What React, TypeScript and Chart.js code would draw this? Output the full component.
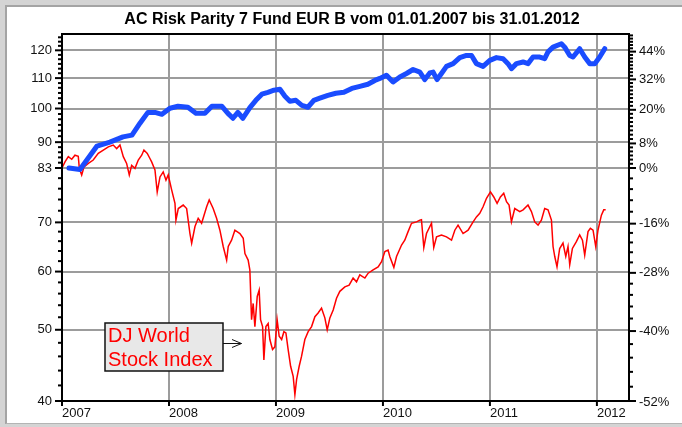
import React, { useEffect, useRef } from "react";
import { Chart, registerables } from "chart.js";

Chart.register(...registerables);

const TITLE = "AC Risk Parity 7 Fund EUR B vom 01.01.2007 bis 31.01.2012";
const ANNOTATION_LINES = ["DJ World", "Stock Index"];
const BASE = 83;

const yearTicks = [2007, 2008, 2009, 2010, 2011, 2012];
const leftMajor = [40, 50, 60, 70, 83, 90, 100, 110, 120];
const leftMinor = [
  42, 44, 46, 48, 52, 54, 56, 58, 62, 64, 66, 68, 72.6, 75.2, 77.8, 80.4,
  84.4, 85.8, 87.2, 88.6, 91.7, 93.3, 95, 96.7, 98.3, 101.7, 103.3, 105, 106.7, 108.3,
  111.7, 113.3, 115, 116.7, 118.3, 121.7, 123.3, 125,
];
const rightMajorPct = [44, 32, 20, 8, 0, -16, -28, -40, -52];
const rightMinorPct = [
  -49.6, -47.2, -44.8, -42.4, -37.6, -35.2, -32.8, -30.4, -25.6, -23.2, -20.8, -18.4,
  -12.8, -9.6, -6.4, -3.2, 1.33, 2.67, 4, 5.33, 6.67,
  9.5, 11, 12.5, 14, 15.5, 17, 18.5, 21.5, 23, 24.5, 26, 27.5, 29, 30.5,
  33.5, 35, 36.5, 38, 39.5, 41, 42.5, 45.5, 47, 48.5, 50, 51.5,
];

// DJ World Stock Index (red)
const indexYears = [
  2007.000, 2007.028, 2007.059, 2007.091, 2007.121, 2007.152, 2007.162, 2007.184, 2007.206, 2007.246,
  2007.292, 2007.339, 2007.386, 2007.433, 2007.479, 2007.511, 2007.542, 2007.573, 2007.604, 2007.629,
  2007.651, 2007.682, 2007.713, 2007.745, 2007.766, 2007.797, 2007.822, 2007.838, 2007.869, 2007.890,
  2007.916, 2007.946, 2007.972, 2007.993, 2008.025, 2008.056, 2008.065, 2008.087, 2008.133, 2008.165,
  2008.196, 2008.212, 2008.243, 2008.273, 2008.305, 2008.352, 2008.376, 2008.413, 2008.445, 2008.476,
  2008.507, 2008.539, 2008.554, 2008.585, 2008.616, 2008.663, 2008.694, 2008.710, 2008.740, 2008.756,
  2008.772, 2008.787, 2008.803, 2008.825, 2008.843, 2008.856, 2008.875, 2008.887, 2008.906, 2008.927,
  2008.943, 2008.968, 2008.990, 2009.011, 2009.030, 2009.053, 2009.074, 2009.093, 2009.114, 2009.137,
  2009.161, 2009.177, 2009.193, 2009.217, 2009.239, 2009.270, 2009.301, 2009.333, 2009.364, 2009.394,
  2009.426, 2009.457, 2009.479, 2009.504, 2009.535, 2009.566, 2009.597, 2009.644, 2009.684, 2009.721,
  2009.753, 2009.784, 2009.831, 2009.862, 2009.908, 2009.955, 2009.987, 2010.018, 2010.048, 2010.064,
  2010.102, 2010.127, 2010.174, 2010.204, 2010.235, 2010.267, 2010.314, 2010.345, 2010.360, 2010.382,
  2010.407, 2010.454, 2010.475, 2010.501, 2010.547, 2010.594, 2010.641, 2010.672, 2010.702, 2010.749,
  2010.796, 2010.843, 2010.874, 2010.905, 2010.936, 2010.968, 2011.005, 2011.036, 2011.067, 2011.098,
  2011.129, 2011.155, 2011.179, 2011.201, 2011.232, 2011.279, 2011.310, 2011.356, 2011.388, 2011.419,
  2011.450, 2011.481, 2011.512, 2011.543, 2011.575, 2011.590, 2011.606, 2011.627, 2011.652, 2011.683,
  2011.709, 2011.730, 2011.746, 2011.771, 2011.808, 2011.839, 2011.865, 2011.886, 2011.917, 2011.939,
  2011.964, 2011.989, 2012.010, 2012.042, 2012.064, 2012.082,
];
const indexValues = [
  83.0, 84.6, 86.0, 85.3, 86.4, 86.1, 82.9, 81.2, 83.3, 84.2,
  85.1, 86.9, 87.8, 88.7, 89.2, 88.2, 89.2, 86.0, 84.2, 81.2,
  83.7, 82.9, 85.1, 86.4, 87.8, 86.9, 85.5, 84.6, 82.5, 77.0,
  80.7, 82.0, 79.9, 81.2, 77.5, 74.3, 70.5, 73.1, 73.9, 73.1,
  67.6, 65.6, 69.1, 70.9, 69.8, 73.5, 75.1, 73.1, 70.9, 68.3,
  64.9, 62.2, 64.9, 66.2, 68.3, 67.6, 66.6, 63.5, 62.2, 60.3,
  51.6, 54.3, 50.5, 55.5, 56.6, 51.6, 50.5, 45.5, 50.5, 51.0,
  48.5, 47.0, 47.4, 51.6, 49.0, 48.5, 49.7, 49.5, 47.0, 44.6,
  43.2, 40.8, 42.8, 44.6, 46.0, 48.5, 49.7, 50.5, 52.1, 52.7,
  53.5, 51.9, 50.0, 51.9, 53.2, 55.2, 56.4, 57.2, 57.5, 58.8,
  58.1, 59.4, 58.8, 59.7, 60.3, 60.9, 61.9, 63.9, 64.2, 62.9,
  60.8, 62.9, 65.2, 66.2, 68.0, 69.8, 70.1, 70.5, 70.6, 64.7,
  67.6, 69.8, 64.7, 66.9, 67.3, 66.9, 66.2, 68.3, 69.4, 67.6,
  68.3, 70.1, 71.2, 72.0, 73.5, 75.5, 77.0, 75.8, 74.3, 75.8,
  76.7, 74.7, 73.9, 70.1, 73.1, 72.4, 72.8, 73.9, 72.4, 70.1,
  69.4, 70.5, 73.1, 72.8, 70.5, 64.9, 62.9, 60.9, 64.5, 65.6,
  62.9, 64.9, 61.3, 64.5, 65.9, 67.3, 66.2, 63.2, 68.0, 68.7,
  68.3, 64.9, 68.3, 71.6, 72.8, 72.8,
];

// AC Risk Parity 7 Fund EUR B (blue)
const fundYears = [
  2007.065, 2007.168, 2007.327, 2007.448, 2007.570, 2007.654, 2007.729, 2007.803, 2007.869, 2007.934,
  2008.009, 2008.084, 2008.177, 2008.252, 2008.336, 2008.401, 2008.495, 2008.551, 2008.598, 2008.644,
  2008.691, 2008.756, 2008.812, 2008.868, 2008.925, 2008.981, 2009.037, 2009.084, 2009.130, 2009.186,
  2009.242, 2009.298, 2009.354, 2009.410, 2009.485, 2009.560, 2009.635, 2009.709, 2009.784, 2009.859,
  2009.924, 2009.971, 2010.033, 2010.095, 2010.158, 2010.220, 2010.282, 2010.345, 2010.391, 2010.438,
  2010.469, 2010.506, 2010.547, 2010.594, 2010.656, 2010.718, 2010.781, 2010.828, 2010.874, 2010.936,
  2010.999, 2011.061, 2011.123, 2011.169, 2011.201, 2011.248, 2011.310, 2011.356, 2011.403, 2011.466,
  2011.512, 2011.543, 2011.590, 2011.668, 2011.699, 2011.746, 2011.777, 2011.839, 2011.886, 2011.933,
  2011.980, 2012.026, 2012.073,
];
const fundValues = [
  83.0, 82.6, 88.9, 90.0, 91.5, 92.0, 95.5, 98.8, 98.8, 98.2,
  100.1, 100.7, 100.4, 98.5, 98.5, 100.7, 100.7, 98.5, 97.0, 98.8,
  97.0, 100.3, 102.6, 104.6, 105.2, 105.9, 106.2, 103.9, 102.3, 102.6,
  101.0, 100.4, 102.6, 103.3, 104.2, 104.9, 105.2, 106.5, 107.2, 107.9,
  109.2, 109.9, 111.0, 108.7, 110.4, 111.6, 113.0, 112.1, 109.5, 111.8,
  112.1, 109.5, 111.6, 114.1, 115.1, 117.3, 118.1, 118.1, 115.1, 114.1,
  116.3, 117.3, 116.9, 115.1, 113.3, 115.1, 115.7, 115.1, 117.5, 117.5,
  116.9, 119.4, 121.2, 122.5, 121.2, 118.1, 117.5, 120.6, 117.5, 115.1,
  115.1, 117.5, 120.6,
];

const FONT = "'Liberation Sans', Arial, Helvetica, sans-serif";

export default function App() {
  const ref = useRef<HTMLCanvasElement>(null);

  useEffect(() => {
    const canvas = ref.current;
    if (!canvas) return;

    const decor = {
      id: "decor",
      afterDraw(chart: any) {
        const { ctx, chartArea } = chart;
        const { left, right, top, bottom } = chartArea;
        const yS = chart.scales.y;
        const y1S = chart.scales.y1;
        const xS = chart.scales.x;
        ctx.save();
        ctx.strokeStyle = "#000";
        ctx.lineWidth = 2;
        const line = (x1: number, y1: number, x2: number, y2: number) => {
          ctx.beginPath();
          ctx.moveTo(x1, y1);
          ctx.lineTo(x2, y2);
          ctx.stroke();
        };
        leftMajor.forEach((v) => {
          const py = yS.getPixelForValue(v);
          line(left - 7, py, left, py);
        });
        leftMinor.forEach((v) => {
          const py = yS.getPixelForValue(v);
          line(left - 4, py, left, py);
        });
        rightMajorPct.forEach((p) => {
          const py = Math.min(bottom, y1S.getPixelForValue(BASE * (1 + p / 100)));
          line(right, py, right + 7, py);
        });
        rightMinorPct.forEach((p) => {
          const py = y1S.getPixelForValue(BASE * (1 + p / 100));
          if (py < top || py > bottom) return;
          line(right, py, right + 4, py);
        });
        yearTicks.forEach((yr) => {
          const px = xS.getPixelForValue(yr);
          line(px, bottom, px, bottom + 5);
        });
        ctx.strokeRect(left, top, right - left, bottom - top);

        // title
        ctx.fillStyle = "#000";
        ctx.font = `bold 16px ${FONT}`;
        ctx.textAlign = "center";
        ctx.textBaseline = "middle";
        ctx.fillText(TITLE, 352, 20);

        // annotation box
        const bx = 105, by = 323, bw = 118, bh = 48;
        ctx.fillStyle = "#e8e8e8";
        ctx.fillRect(bx, by, bw, bh);
        ctx.lineWidth = 1.5;
        ctx.strokeStyle = "#111";
        ctx.strokeRect(bx, by, bw, bh);
        ctx.fillStyle = "#ff0000";
        ctx.font = `20px ${FONT}`;
        ctx.textAlign = "left";
        ctx.textBaseline = "alphabetic";
        ctx.fillText(ANNOTATION_LINES[0], 108, 342);
        ctx.fillText(ANNOTATION_LINES[1], 108, 366);
        // arrow
        ctx.lineWidth = 1;
        ctx.strokeStyle = "#111";
        line(bx + bw, 343.5, 241.5, 343.5);
        ctx.beginPath();
        ctx.moveTo(232, 339.5);
        ctx.lineTo(241.5, 343.5);
        ctx.lineTo(232, 347.5);
        ctx.stroke();
        ctx.restore();
      },
    };

    const tickFont = { family: FONT, size: 13 };

    const chart = new Chart(canvas, {
      type: "line",
      data: {
        datasets: [
          {
            label: "AC Risk Parity 7 Fund EUR B",
            data: fundYears.map((x, i) => ({ x, y: fundValues[i] })),
            borderColor: "#1a4cff",
            borderWidth: 5,
            borderCapStyle: "round",
            borderJoinStyle: "round",
            pointRadius: 0,
            tension: 0,
            yAxisID: "y",
          },
          {
            label: "DJ World Stock Index",
            data: indexYears.map((x, i) => ({ x, y: indexValues[i] })),
            borderColor: "#ff0000",
            borderWidth: 1.5,
            pointRadius: 0,
            tension: 0,
            yAxisID: "y",
          },
        ],
      },
      options: {
        responsive: false,
        animation: false,
        events: [],
        layout: { padding: { top: 34, left: 0, right: 0, bottom: 0 } },
        plugins: {
          legend: { display: false },
          title: { display: false },
          tooltip: { enabled: false },
        },
        scales: {
          x: {
            type: "linear",
            min: 2007,
            max: 2012.3,
            afterBuildTicks: (s: any) => {
              s.ticks = yearTicks.map((v) => ({ value: v }));
            },
            afterFit: (s: any) => {
              s.height = 26;
            },
            ticks: {
              callback: (v: any) => String(v),
              align: "start",
              padding: 5,
              autoSkip: false,
              maxRotation: 0,
              font: tickFont,
              color: "#111",
            },
            grid: { color: "#9c9c9c", lineWidth: 2, drawTicks: false },
            border: { display: false },
          },
          y: {
            type: "logarithmic",
            position: "left",
            min: 40,
            max: 126.3,
            afterBuildTicks: (s: any) => {
              s.ticks = leftMajor.map((v) => ({ value: v }));
            },
            afterFit: (s: any) => {
              s.width = 62;
            },
            ticks: {
              callback: (v: any) => String(v),
              padding: 10,
              autoSkip: false,
              font: tickFont,
              color: "#111",
            },
            grid: { color: "#9c9c9c", lineWidth: 2, drawTicks: false },
            border: { display: false },
          },
          y1: {
            type: "logarithmic",
            position: "right",
            min: 40,
            max: 126.3,
            afterBuildTicks: (s: any) => {
              s.ticks = rightMajorPct.map((p) => ({ value: BASE * (1 + p / 100) }));
            },
            afterFit: (s: any) => {
              s.width = 53;
            },
            ticks: {
              callback: (v: any) => `${Math.round((v / BASE - 1) * 100)}%`,
              padding: 10,
              autoSkip: false,
              font: tickFont,
              color: "#111",
            },
            grid: { display: false, drawTicks: false },
            border: { display: false },
          },
        },
      } as any,
      plugins: [decor],
    });

    return () => chart.destroy();
  }, []);

  return (
    <div
      style={{
        position: "fixed",
        left: 0,
        top: 0,
        width: 682,
        height: 427,
        background: "#d4d4d4",
        overflow: "hidden",
      }}
    >
      <div
        style={{
          position: "absolute",
          left: 5,
          top: 5,
          width: 677,
          height: 419,
          background: "#ffffff",
          borderLeft: "2px solid #a4a4a4",
          borderTop: "2px solid #a4a4a4",
          borderBottom: "1px solid #b4b4b4",
          boxSizing: "border-box",
        }}
      />
      <canvas
        ref={ref}
        width={682}
        height={427}
        style={{ position: "absolute", left: 0, top: 0, width: 682, height: 427 }}
      />
    </div>
  );
}
